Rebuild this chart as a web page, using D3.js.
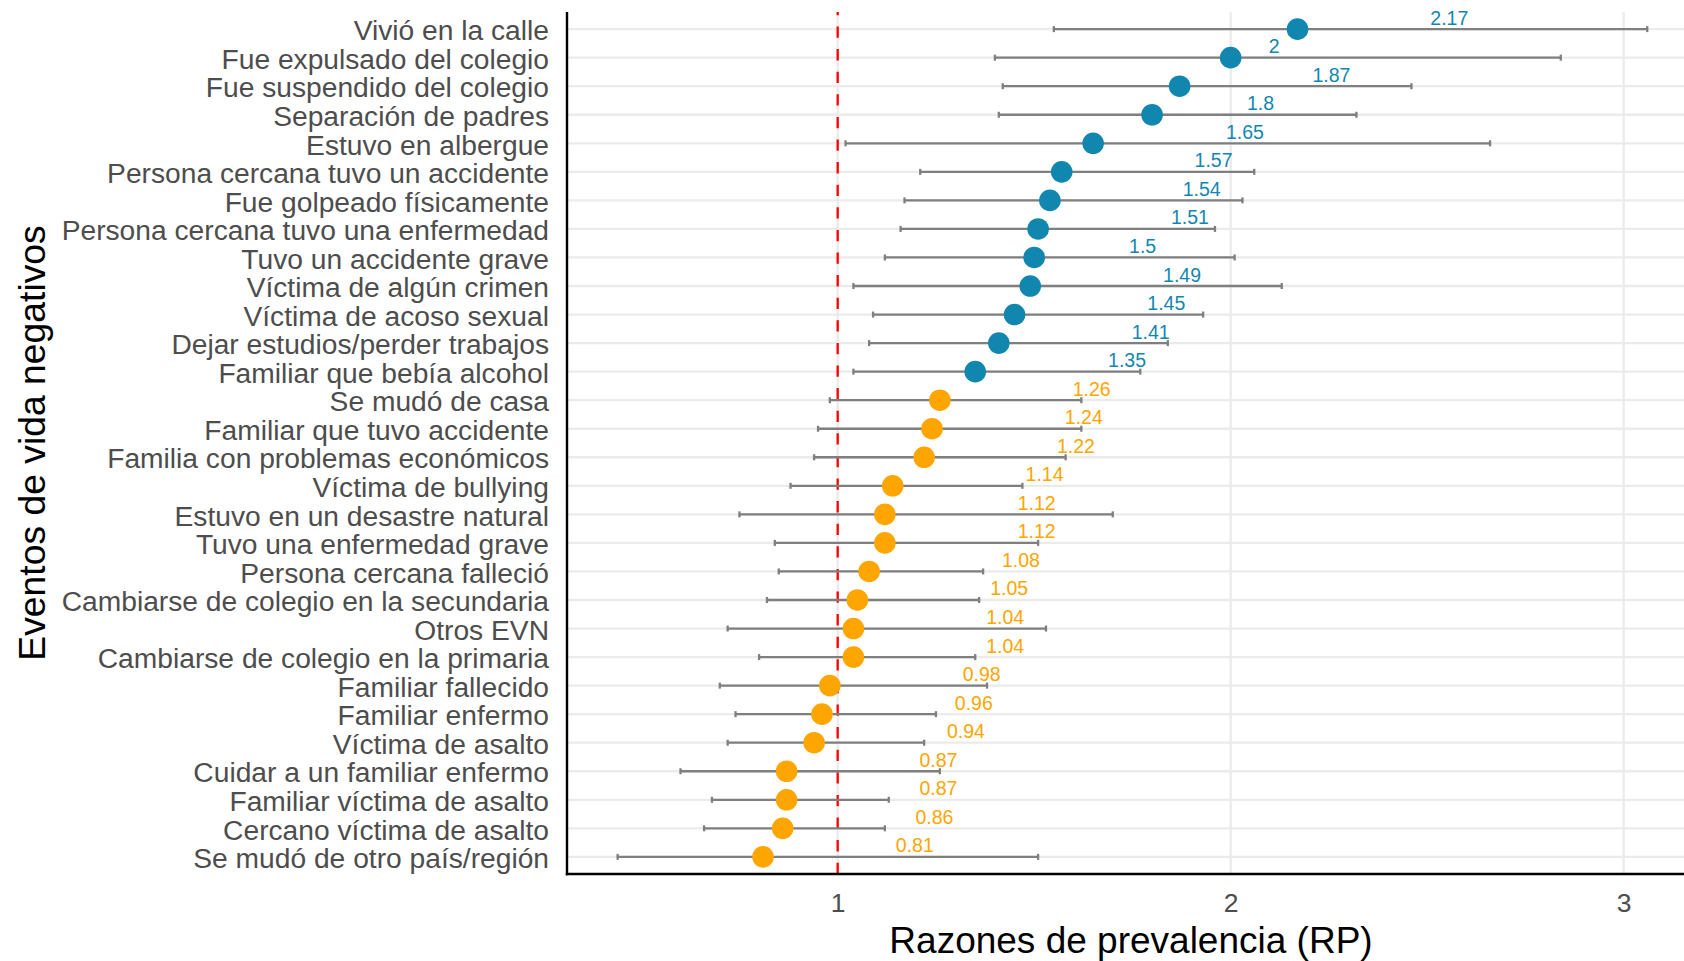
<!DOCTYPE html>
<html>
<head>
<meta charset="utf-8">
<script src="https://cdn.jsdelivr.net/npm/d3@7"></script>
<style>
  body { margin: 0; background: #fff; }
  text { font-family: "Liberation Sans", Arial, sans-serif; }
</style>
</head>
<body>
<svg id="drawing_region"></svg>
<script>
// eventos, de arriba hacia abajo
const categories = [
  "Vivió en la calle", "Fue expulsado del colegio", "Fue suspendido del colegio",
  "Separación de padres", "Estuvo en albergue", "Persona cercana tuvo un accidente",
  "Fue golpeado físicamente", "Persona cercana tuvo una enfermedad", "Tuvo un accidente grave",
  "Víctima de algún crimen", "Víctima de acoso sexual", "Dejar estudios/perder trabajos",
  "Familiar que bebía alcohol", "Se mudó de casa", "Familiar que tuvo accidente",
  "Familia con problemas económicos", "Víctima de bullying", "Estuvo en un desastre natural",
  "Tuvo una enfermedad grave", "Persona cercana falleció", "Cambiarse de colegio en la secundaria",
  "Otros EVN", "Cambiarse de colegio en la primaria", "Familiar fallecido",
  "Familiar enfermo", "Víctima de asalto", "Cuidar a un familiar enfermo",
  "Familiar víctima de asalto", "Cercano víctima de asalto", "Se mudó de otro país/región"
];
const rp = [2.17, 2, 1.87, 1.8, 1.65, 1.57, 1.54, 1.51, 1.5, 1.49, 1.45, 1.41, 1.35,
  1.26, 1.24, 1.22, 1.14, 1.12, 1.12, 1.08, 1.05, 1.04, 1.04, 0.98, 0.96, 0.94, 0.87, 0.87, 0.86, 0.81];
const lower = [1.55, 1.40, 1.42, 1.41, 1.02, 1.21, 1.17, 1.16, 1.12, 1.04, 1.09, 1.08, 1.04,
  0.98, 0.95, 0.94, 0.88, 0.75, 0.84, 0.85, 0.82, 0.72, 0.80, 0.70, 0.74, 0.72, 0.60, 0.68, 0.66, 0.44];
const upper = [3.06, 2.84, 2.46, 2.32, 2.66, 2.06, 2.03, 1.96, 2.01, 2.13, 1.93, 1.84, 1.77,
  1.62, 1.62, 1.58, 1.47, 1.70, 1.51, 1.37, 1.36, 1.53, 1.35, 1.38, 1.25, 1.22, 1.26, 1.13, 1.12, 1.51];
const xTicks = [1, 2, 3];

const width = 1684, height = 961;
const margin = {top: 12, right: 0, bottom: 87, left: 567};
const blue = "#1187b0", orange = "#ffa500";

const data = categories.map((c, i) => ({label: c, rp: rp[i], lo: lower[i], hi: upper[i]}));

const svg = d3.select('#drawing_region')
    .attr('width', width)
    .attr('height', height);

const xscale = d3.scaleLinear()
    .domain([0.3112, 3.1535])
    .range([margin.left, width - margin.right]);

const yscale = d3.scalePoint()
    .domain(categories)
    .range([margin.top, height - margin.bottom])
    .padding(0.6);

const panelTop = margin.top, panelBottom = height - margin.bottom;

// grid
svg.append('g').selectAll('line').data(categories).enter()
    .append('line')
    .attr('x1', margin.left).attr('x2', width)
    .attr('y1', d => yscale(d)).attr('y2', d => yscale(d))
    .attr('stroke', '#ebebeb').attr('stroke-width', 2.3);
svg.append('g').selectAll('line').data(xTicks).enter()
    .append('line')
    .attr('x1', d => xscale(d)).attr('x2', d => xscale(d))
    .attr('y1', panelTop).attr('y2', panelBottom)
    .attr('stroke', '#ebebeb').attr('stroke-width', 2.3);

// línea de referencia RP = 1
svg.append('line')
    .attr('x1', xscale(1)).attr('x2', xscale(1))
    .attr('y1', panelBottom).attr('y2', panelTop)
    .attr('stroke', '#ff0000').attr('stroke-width', 2.3)
    .attr('stroke-dasharray', '11.3,11.3');

// intervalos de confianza
const bars = svg.append('g').selectAll('g').data(data).enter().append('g')
    .attr('stroke', '#7f7f7f').attr('stroke-width', 2.3);
bars.append('line')
    .attr('x1', d => xscale(d.lo)).attr('x2', d => xscale(d.hi))
    .attr('y1', d => yscale(d.label)).attr('y2', d => yscale(d.label));
bars.append('line')
    .attr('x1', d => xscale(d.lo)).attr('x2', d => xscale(d.lo))
    .attr('y1', d => yscale(d.label) - 3).attr('y2', d => yscale(d.label) + 3);
bars.append('line')
    .attr('x1', d => xscale(d.hi)).attr('x2', d => xscale(d.hi))
    .attr('y1', d => yscale(d.label) - 3).attr('y2', d => yscale(d.label) + 3);

// puntos
const col = d => d.lo > 1 ? blue : orange;
svg.append('g').selectAll('circle').data(data).enter()
    .append('circle')
    .attr('cx', d => xscale(d.rp))
    .attr('cy', d => yscale(d.label))
    .attr('r', 10.8)
    .attr('fill', col);

// etiquetas (hjust = -3.5)
svg.append('g').selectAll('text').data(data).enter()
    .append('text')
    .attr('y', d => yscale(d.label) - 4.5)
    .attr('font-size', '19.5px')
    .attr('fill', col)
    .text(d => String(d.rp))
    .attr('x', function(d) { return xscale(d.rp) + 3.5 * this.getComputedTextLength(); });

// ejes
const yaxis = d3.axisLeft(yscale).tickSize(0).tickPadding(18);
const ygroup = svg.append('g')
    .attr('transform', `translate(${margin.left},0)`)
    .call(yaxis);
ygroup.select('.domain').remove();
ygroup.selectAll('text')
    .attr('font-size', '28.2px')
    .attr('fill', '#4d4d4d')
    .attr('dy', '0.38em');

const xaxis = d3.axisBottom(xscale).tickValues(xTicks).tickFormat(d3.format('d'))
    .tickSize(0).tickPadding(19);
const xgroup = svg.append('g')
    .attr('transform', `translate(0,${panelBottom})`)
    .call(xaxis);
xgroup.select('.domain').remove();
xgroup.selectAll('text')
    .attr('font-size', '26.5px')
    .attr('fill', '#4d4d4d');

svg.append('line')
    .attr('x1', margin.left).attr('x2', margin.left)
    .attr('y1', panelTop).attr('y2', panelBottom + 1.2)
    .attr('stroke', '#000').attr('stroke-width', 2.4);
svg.append('line')
    .attr('x1', margin.left - 1.2).attr('x2', width)
    .attr('y1', panelBottom).attr('y2', panelBottom)
    .attr('stroke', '#000').attr('stroke-width', 2.4);

// títulos
svg.append('text')
    .attr('x', 1131).attr('y', 953)
    .attr('text-anchor', 'middle')
    .attr('font-size', '37px')
    .attr('fill', '#000')
    .text('Razones de prevalencia (RP)');

svg.append('text')
    .attr('transform', `translate(45, ${(panelTop + panelBottom) / 2}) rotate(-90)`)
    .attr('text-anchor', 'middle')
    .attr('font-size', '37.3px')
    .attr('fill', '#000')
    .text('Eventos de vida negativos');
</script>
</body>
</html>
